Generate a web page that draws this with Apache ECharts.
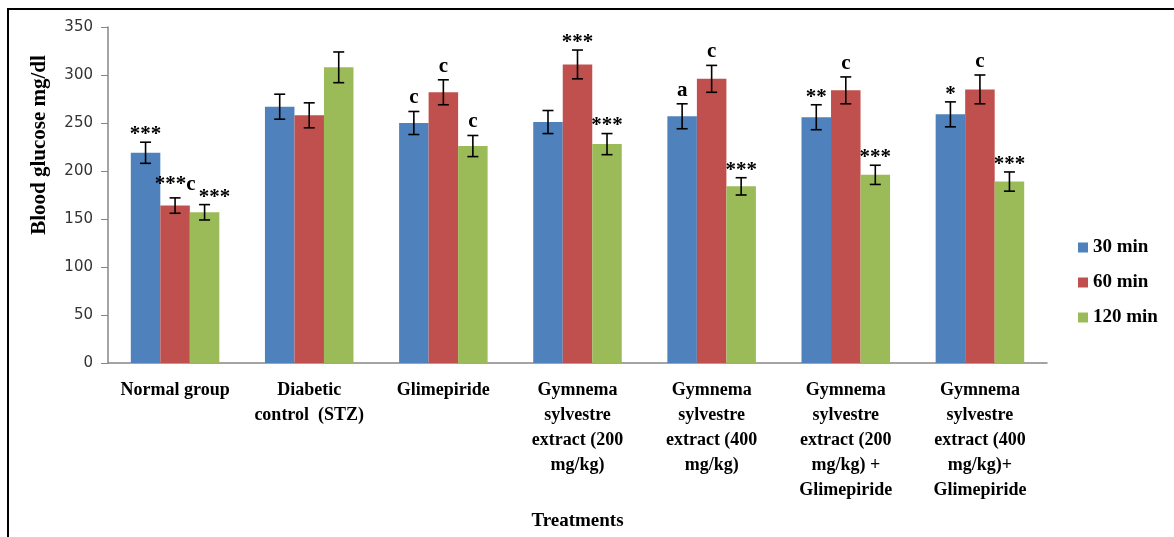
<!DOCTYPE html>
<html>
<head>
<meta charset="utf-8">
<script src="https://cdn.jsdelivr.net/npm/echarts@6/dist/echarts.min.js"></script>
<style>
  html, body { margin: 0; padding: 0; background: #fff; }
  #chart { width: 1174px; height: 537px; }
</style>
</head>
<body>
<div id="chart"></div>
<script>
// Treatment groups on the x axis
const categories = [
  'Normal group',
  'Diabetic\ncontrol  (STZ)',
  'Glimepiride',
  'Gymnema\nsylvestre\nextract (200\nmg/kg)',
  'Gymnema\nsylvestre\nextract (400\nmg/kg)',
  'Gymnema\nsylvestre\nextract (200\nmg/kg) +\nGlimepiride',
  'Gymnema\nsylvestre\nextract (400\nmg/kg)+\nGlimepiride'
];

const seriesNames = ['30 min', '60 min', '120 min'];

// Mean blood glucose (mg/dl)
const glucose30 = [219, 267, 250, 251, 257, 256, 259];
const glucose60 = [164, 258, 282, 311, 296, 284, 285];
const glucose120 = [157, 308, 226, 228, 184, 196, 189];

// Error (± SEM)
const err30 = [11, 13, 12, 12, 13, 13, 13];
const err60 = [8, 13, 13, 15, 14, 14, 15];
const err120 = [8, 16, 11, 11, 9, 10, 10];

// Significance marks above each bar
const sig30 = ['***', '', 'c', '', 'a', '**', '*'];
const sig60 = ['***c', '', 'c', '***', 'c', 'c', 'c'];
const sig120 = ['***', '', 'c', '***', '***', '***', '***'];

const yTicks = { min: 0, max: 350, interval: 50 };

const colors = ['#4F81BD', '#C0504D', '#9BBB59'];
const means = [glucose30, glucose60, glucose120];
const errs = [err30, err60, err120];
const sigs = [sig30, sig60, sig120];

const CATEGORY_GAP = 0.34;
const serif = '"Liberation Serif", "Times New Roman", serif';

function errorSeries(s) {
  return {
    type: 'custom',
    name: 'err-' + seriesNames[s],
    z: 5,
    silent: true,
    data: means[s].map((v, i) => [i, v, errs[s][i]]),
    renderItem: function (params, api) {
      const idx = api.value(0);
      const mean = api.value(1);
      const e = api.value(2);
      const band = api.size([1, 0])[0];
      const barW = band * (1 - CATEGORY_GAP) / 3;
      const top = api.coord([idx, mean + e]);
      const bot = api.coord([idx, mean - e]);
      const x = top[0] + (s - 1) * barW;
      const cap = 5.5;
      const lineStyle = { stroke: '#000', lineWidth: 1.6 };
      const children = [
        { type: 'line', shape: { x1: x, y1: top[1], x2: x, y2: bot[1] }, style: lineStyle },
        { type: 'line', shape: { x1: x - cap, y1: top[1], x2: x + cap, y2: top[1] }, style: lineStyle },
        { type: 'line', shape: { x1: x - cap, y1: bot[1], x2: x + cap, y2: bot[1] }, style: lineStyle }
      ];
      const mark = sigs[s][idx];
      if (mark) {
        // the 120 min mark in the first group sits a little to the right
        const dx = (s === 2 && idx === 0) ? 10 : 0;
        // letters sit on the baseline, so lift them clear of the cap
        const hasLetter = /[a-z]/i.test(mark);
        children.push({
          type: 'text',
          style: {
            text: mark,
            x: x + dx,
            y: top[1] + (hasLetter ? -3 : 3),
            align: 'center',
            verticalAlign: 'bottom',
            font: 'bold 21px ' + serif,
            fill: '#000'
          }
        });
      }
      return { type: 'group', children: children };
    }
  };
}

const chart = echarts.init(document.getElementById('chart'));

const option = {
  animation: false,
  backgroundColor: '#fff',
  color: colors,
  grid: { left: 108, right: 127, top: 27, bottom: 174, outerBoundsMode: 'none', containLabel: false },
  legend: {
    data: seriesNames,
    orient: 'vertical',
    left: 1073,
    top: 233,
    itemWidth: 10,
    itemHeight: 10,
    itemGap: 16,
    icon: 'rect',
    textStyle: { fontFamily: serif, fontWeight: 'bold', fontSize: 19, color: '#000' }
  },
  xAxis: {
    type: 'category',
    data: categories,
    name: 'Treatments',
    nameLocation: 'middle',
    nameGap: 149,
    nameTextStyle: { fontFamily: serif, fontWeight: 'bold', fontSize: 19, color: '#000' },
    axisLine: { lineStyle: { color: '#868686', width: 1.5 } },
    axisTick: { show: false },
    axisLabel: {
      interval: 0,
      margin: 15,
      fontFamily: serif,
      fontWeight: 'bold',
      fontSize: 18,
      lineHeight: 25,
      color: '#000'
    }
  },
  yAxis: {
    type: 'value',
    min: yTicks.min,
    max: yTicks.max,
    interval: yTicks.interval,
    splitLine: { show: false },
    axisLine: { show: true, lineStyle: { color: '#868686', width: 1.5 } },
    axisTick: { show: true, length: 7, lineStyle: { color: '#868686' } },
    axisLabel: {
      margin: 15,
      fontFamily: '"DejaVu Sans", Verdana, sans-serif',
      fontSize: 15,
      color: '#333'
    }
  },
  graphic: [
    {
      type: 'rect',
      shape: { x: 8, y: 9, width: 1300, height: 700 },
      style: { fill: 'none', stroke: '#000', lineWidth: 2 },
      silent: true
    },
    {
      type: 'text',
      x: 40,
      y: 145,
      rotation: Math.PI / 2,
      style: {
        text: 'Blood glucose mg/dl',
        align: 'center',
        verticalAlign: 'middle',
        font: 'bold 21px ' + serif,
        fill: '#000'
      }
    }
  ],
  series: [
    ...seriesNames.map((name, s) => ({
      type: 'bar',
      name: name,
      data: means[s],
      barGap: '0%',
      barCategoryGap: (CATEGORY_GAP * 100) + '%',
      itemStyle: { color: colors[s] }
    })),
    errorSeries(0),
    errorSeries(1),
    errorSeries(2)
  ]
};

chart.setOption(option);
</script>
</body>
</html>
